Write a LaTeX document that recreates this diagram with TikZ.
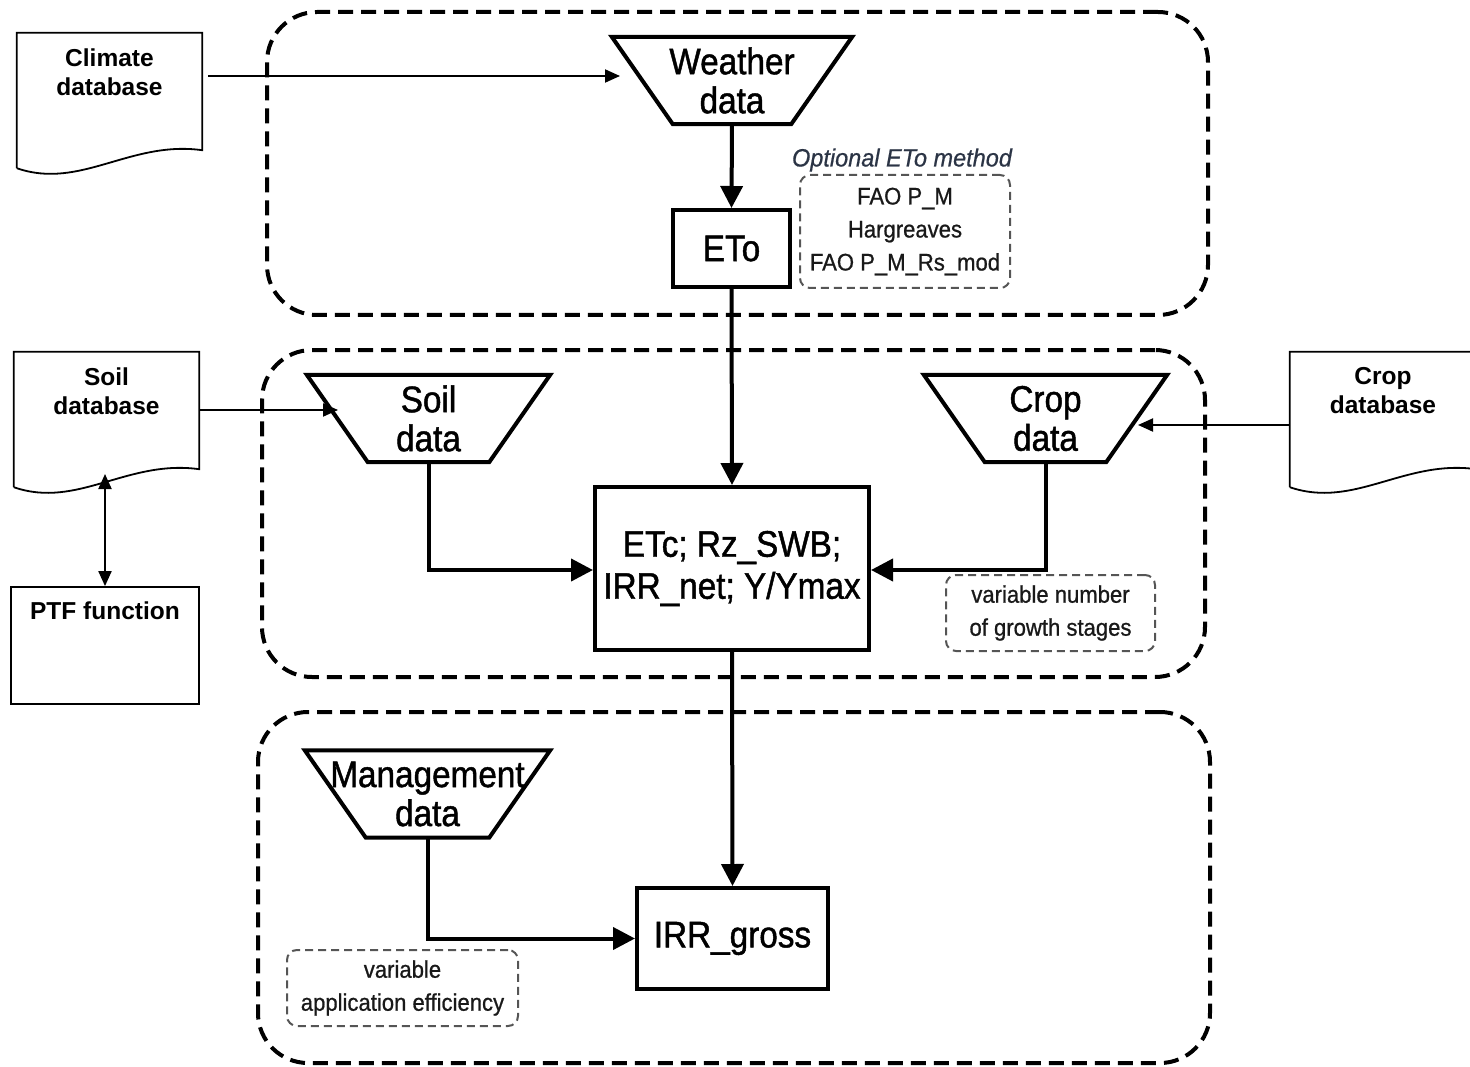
\documentclass[tikz,border=0pt]{standalone}
\usepackage{fontspec}
\setmainfont{Liberation Sans}
\newfontfamily\narrowf[FakeStretch=0.9,FakeBold=1.2]{Liberation Sans}
\newfontfamily\smallf[FakeStretch=0.92,FakeBold=0.8]{Liberation Sans}
\newfontfamily\italf[FakeStretch=0.94,FakeBold=0.6]{Liberation Sans}
\usetikzlibrary{arrows.meta,calc}
\definecolor{notegray}{HTML}{555555}
\definecolor{slate}{HTML}{2B3445}
\newcommand\mytrap[5]{%
  \node[trapnode, minimum width=#4] (#1) at (#2,#3) {#5};
  \draw[trapline] (#1.north west) -- (#1.north east) -- ([xshift=-61pt]#1.south east) -- ([xshift=61pt]#1.south west) -- cycle;}
\newcommand\mydoc[1]{%
  \draw[docline] (#1.south west) -- (#1.north west) -- (#1.north east) -- ([yshift=18pt]#1.south east)
    .. controls ([shift={(-72pt,28pt)}]#1.south east) and ([shift={(-122pt,-22pt)}]#1.south east) .. (#1.south west);}
\begin{document}
\begin{tikzpicture}[x=1pt,y=-1pt,
  group/.style={draw, line width=4pt, dash pattern=on 15pt off 8pt, rounded corners=50pt, inner sep=0},
  flowbox/.style={draw, line width=4pt, font=\narrowf\fontsize{37}{42}\selectfont, align=center, inner sep=0},
  trapnode/.style={draw=none, minimum height=87, inner sep=0, font=\narrowf\fontsize{37}{39}\selectfont, align=center},
  trapline/.style={line width=4pt, line join=miter},
  notebox/.style={draw=notegray, line width=2pt, dash pattern=on 8pt off 5pt, rounded corners=10pt, inner sep=0,
    font=\smallf\fontsize{24}{33}\selectfont, align=center, text=black!90},
  docbox/.style={draw=none, inner sep=0, minimum width=185, minimum height=135},
  doctext/.style={font=\bfseries\fontsize{24.5}{29}\selectfont, align=center, inner sep=0},
  docline/.style={line width=1.8pt},
  flow/.style={line width=4pt, -{Triangle[length=22pt,width=22pt]}},
  thinarr/.style={line width=2pt, -{Triangle[length=15pt,width=13pt]}},
  botharr/.style={line width=2pt, {Triangle[length=15pt,width=13pt]}-{Triangle[length=15pt,width=13pt]}}
]
\useasboundingbox (0,0) rectangle (1470,1067);

% groups
\node[group, minimum width=941, minimum height=303] (g1) at (737.5,163.5) {};
\node[group, minimum width=943, minimum height=327] (g2) at (733.5,513.5) {};
\node[group, minimum width=952, minimum height=351] (g3) at (734,887.5) {};

% documents
\node[docbox] (climate) at (109.5,100.5) {};
\mydoc{climate}
\node[doctext] (climateT) at (109.5,72.5) {Climate\\database};

\node[docbox] (soildb) at (106.5,419.5) {};
\mydoc{soildb}
\node[doctext] (soildbT) at (106.5,391) {Soil\\database};

\node[docbox, minimum width=186] (cropdb) at (1383,419.5) {};
\mydoc{cropdb}
\node[doctext] (cropdbT) at (1383,391) {Crop\\database};

\node[draw, line width=1.8pt, minimum width=188, minimum height=117, inner sep=0] (ptf) at (105,645.5) {};
\node[doctext] (ptfT) at (105,611) {PTF function};

% trapezoids
\mytrap{weather}{732}{80.5}{240}{Weather\\data}
\mytrap{soil}{428.5}{418.5}{243}{Soil\\data}
\mytrap{crop}{1045.5}{418.5}{243}{Crop\\data}
\mytrap{mgmt}{427.5}{794}{245}{Management\\data}

% boxes
\node[flowbox, minimum width=117, minimum height=77] (eto) at (731.5,248.5) {ETo};
\node[flowbox, minimum width=274, minimum height=163] (etc) at (732,568.5) {ETc; Rz\_SWB;\\IRR\_net; Y/Ymax};
\node[flowbox, minimum width=191, minimum height=101] (irr) at (732.5,938.5) {IRR\_gross};

% notes
\node[font=\italf\itshape\fontsize{25}{28}\selectfont, text=slate, inner sep=0] (optlab) at (902,160) {Optional ETo method};
\node[notebox, minimum width=210, minimum height=113] (methods) at (905,231.5) {FAO P\_M\\Hargreaves\\FAO P\_M\_Rs\_mod};
\node[notebox, minimum width=209, minimum height=76] (stages) at (1050.5,613) {variable number\\of growth stages};
\node[notebox, minimum width=231, minimum height=76] (effic) at (402.5,988) {variable\\application efficiency};

% connector end points
\coordinate (wIn) at (620,76);
\coordinate (sIn) at (338,410);
\coordinate (cIn) at (1138,425);
\coordinate (sWave) at (105,474);

% connectors
\draw[thinarr] ([xshift=6pt]climate.east |- wIn) -- (wIn);
\draw[thinarr] (soildb.east |- sIn) -- (sIn);
\draw[thinarr] (cropdb.west |- cIn) -- (cIn);
\draw[botharr] (sWave) -- (ptf.north);

\draw[flow] (weather.south) -- (eto.north);
\draw[flow] (eto.south) -- (etc.north);
\draw[flow] (soil.south) |- ([yshift=-1.5pt]etc.west);
\draw[flow] (crop.south) |- ([yshift=-1.5pt]etc.east);
\draw[flow] (etc.south) -- (irr.north);
\draw[flow] (mgmt.south) |- (irr.west);
\end{tikzpicture}
\end{document}
